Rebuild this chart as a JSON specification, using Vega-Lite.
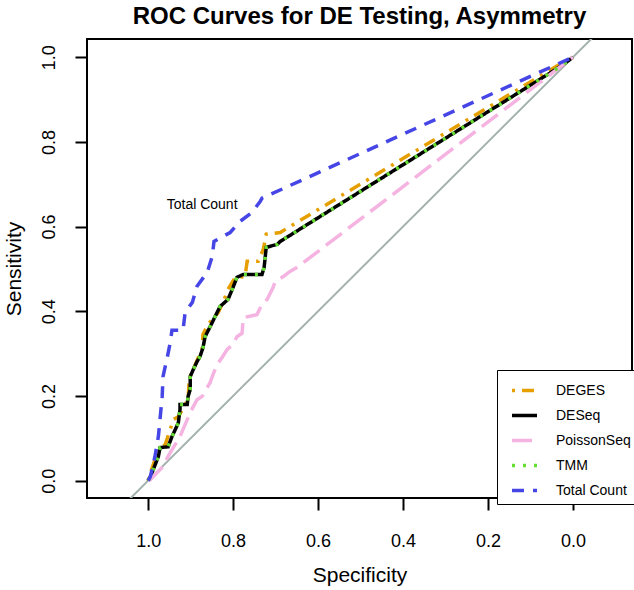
{
  "$schema": "https://vega.github.io/schema/vega-lite/v6.json",
  "autosize": "none",
  "width": 545,
  "height": 459,
  "padding": {"left": 87, "top": 39, "right": 2, "bottom": 92},
  "background": "white",
  "title": {"text": "ROC Curves for DE Testing, Asymmetry", "font": "Liberation Sans", "fontSize": 24, "fontWeight": "bold", "color": "black", "anchor": "middle", "offset": 10},
  "config": {
    "view": {"stroke": "black", "strokeWidth": 2},
    "axis": {"domain": false, "grid": false, "tickColor": "black", "tickWidth": 2, "tickSize": 12, "labelFont": "Liberation Sans", "labelFontSize": 18, "labelColor": "black", "titleFont": "Liberation Sans", "titleFontSize": 21, "titleFontWeight": "normal", "titleColor": "black"}
  },
  "datasets": {
    "curves": [
      {"s": "DEGES", "i": 0, "x": 1.0, "y": 0.0},
      {"s": "DEGES", "i": 1, "x": 0.995, "y": 0.017},
      {"s": "DEGES", "i": 2, "x": 0.984, "y": 0.05},
      {"s": "DEGES", "i": 3, "x": 0.979, "y": 0.069},
      {"s": "DEGES", "i": 4, "x": 0.96, "y": 0.085},
      {"s": "DEGES", "i": 5, "x": 0.948, "y": 0.121},
      {"s": "DEGES", "i": 6, "x": 0.941, "y": 0.144},
      {"s": "DEGES", "i": 7, "x": 0.929, "y": 0.151},
      {"s": "DEGES", "i": 8, "x": 0.913, "y": 0.18},
      {"s": "DEGES", "i": 9, "x": 0.906, "y": 0.191},
      {"s": "DEGES", "i": 10, "x": 0.904, "y": 0.227},
      {"s": "DEGES", "i": 11, "x": 0.901, "y": 0.246},
      {"s": "DEGES", "i": 12, "x": 0.889, "y": 0.274},
      {"s": "DEGES", "i": 13, "x": 0.882, "y": 0.291},
      {"s": "DEGES", "i": 14, "x": 0.873, "y": 0.31},
      {"s": "DEGES", "i": 15, "x": 0.871, "y": 0.345},
      {"s": "DEGES", "i": 16, "x": 0.859, "y": 0.369},
      {"s": "DEGES", "i": 17, "x": 0.849, "y": 0.381},
      {"s": "DEGES", "i": 18, "x": 0.835, "y": 0.397},
      {"s": "DEGES", "i": 19, "x": 0.821, "y": 0.428},
      {"s": "DEGES", "i": 20, "x": 0.812, "y": 0.452},
      {"s": "DEGES", "i": 21, "x": 0.795, "y": 0.48},
      {"s": "DEGES", "i": 22, "x": 0.772, "y": 0.482},
      {"s": "DEGES", "i": 23, "x": 0.767, "y": 0.518},
      {"s": "DEGES", "i": 24, "x": 0.741, "y": 0.518},
      {"s": "DEGES", "i": 25, "x": 0.729, "y": 0.546},
      {"s": "DEGES", "i": 26, "x": 0.722, "y": 0.582},
      {"s": "DEGES", "i": 27, "x": 0.689, "y": 0.586},
      {"s": "DEGES", "i": 28, "x": 0.673, "y": 0.596},
      {"s": "DEGES", "i": 29, "x": 0.035, "y": 0.981},
      {"s": "DEGES", "i": 30, "x": 0.0, "y": 1.0},

      {"s": "DESeq", "i": 0, "x": 1.0, "y": 0.0},
      {"s": "DESeq", "i": 1, "x": 0.995, "y": 0.009},
      {"s": "DESeq", "i": 2, "x": 0.988, "y": 0.026},
      {"s": "DESeq", "i": 3, "x": 0.976, "y": 0.057},
      {"s": "DESeq", "i": 4, "x": 0.972, "y": 0.078},
      {"s": "DESeq", "i": 5, "x": 0.953, "y": 0.08},
      {"s": "DESeq", "i": 6, "x": 0.944, "y": 0.104},
      {"s": "DESeq", "i": 7, "x": 0.936, "y": 0.121},
      {"s": "DESeq", "i": 8, "x": 0.929, "y": 0.137},
      {"s": "DESeq", "i": 9, "x": 0.925, "y": 0.168},
      {"s": "DESeq", "i": 10, "x": 0.925, "y": 0.18},
      {"s": "DESeq", "i": 11, "x": 0.908, "y": 0.18},
      {"s": "DESeq", "i": 12, "x": 0.906, "y": 0.199},
      {"s": "DESeq", "i": 13, "x": 0.901, "y": 0.215},
      {"s": "DESeq", "i": 14, "x": 0.901, "y": 0.246},
      {"s": "DESeq", "i": 15, "x": 0.894, "y": 0.262},
      {"s": "DESeq", "i": 16, "x": 0.885, "y": 0.281},
      {"s": "DESeq", "i": 17, "x": 0.878, "y": 0.293},
      {"s": "DESeq", "i": 18, "x": 0.871, "y": 0.314},
      {"s": "DESeq", "i": 19, "x": 0.866, "y": 0.34},
      {"s": "DESeq", "i": 20, "x": 0.854, "y": 0.364},
      {"s": "DESeq", "i": 21, "x": 0.849, "y": 0.374},
      {"s": "DESeq", "i": 22, "x": 0.831, "y": 0.411},
      {"s": "DESeq", "i": 23, "x": 0.812, "y": 0.428},
      {"s": "DESeq", "i": 24, "x": 0.802, "y": 0.452},
      {"s": "DESeq", "i": 25, "x": 0.791, "y": 0.48},
      {"s": "DESeq", "i": 26, "x": 0.776, "y": 0.487},
      {"s": "DESeq", "i": 27, "x": 0.732, "y": 0.487},
      {"s": "DESeq", "i": 28, "x": 0.727, "y": 0.504},
      {"s": "DESeq", "i": 29, "x": 0.722, "y": 0.551},
      {"s": "DESeq", "i": 30, "x": 0.696, "y": 0.558},
      {"s": "DESeq", "i": 31, "x": 0.689, "y": 0.565},
      {"s": "DESeq", "i": 32, "x": 0.028, "y": 0.979},
      {"s": "DESeq", "i": 33, "x": 0.0, "y": 1.0},

      {"s": "PoissonSeq", "i": 0, "x": 1.0, "y": 0.0},
      {"s": "PoissonSeq", "i": 1, "x": 0.995, "y": 0.002},
      {"s": "PoissonSeq", "i": 2, "x": 0.979, "y": 0.019},
      {"s": "PoissonSeq", "i": 3, "x": 0.965, "y": 0.033},
      {"s": "PoissonSeq", "i": 4, "x": 0.955, "y": 0.054},
      {"s": "PoissonSeq", "i": 5, "x": 0.948, "y": 0.066},
      {"s": "PoissonSeq", "i": 6, "x": 0.925, "y": 0.104},
      {"s": "PoissonSeq", "i": 7, "x": 0.918, "y": 0.121},
      {"s": "PoissonSeq", "i": 8, "x": 0.908, "y": 0.144},
      {"s": "PoissonSeq", "i": 9, "x": 0.901, "y": 0.161},
      {"s": "PoissonSeq", "i": 10, "x": 0.885, "y": 0.191},
      {"s": "PoissonSeq", "i": 11, "x": 0.873, "y": 0.199},
      {"s": "PoissonSeq", "i": 12, "x": 0.854, "y": 0.232},
      {"s": "PoissonSeq", "i": 13, "x": 0.849, "y": 0.246},
      {"s": "PoissonSeq", "i": 14, "x": 0.838, "y": 0.274},
      {"s": "PoissonSeq", "i": 15, "x": 0.826, "y": 0.291},
      {"s": "PoissonSeq", "i": 16, "x": 0.814, "y": 0.31},
      {"s": "PoissonSeq", "i": 17, "x": 0.8, "y": 0.322},
      {"s": "PoissonSeq", "i": 18, "x": 0.791, "y": 0.34},
      {"s": "PoissonSeq", "i": 19, "x": 0.779, "y": 0.348},
      {"s": "PoissonSeq", "i": 20, "x": 0.776, "y": 0.385},
      {"s": "PoissonSeq", "i": 21, "x": 0.744, "y": 0.392},
      {"s": "PoissonSeq", "i": 22, "x": 0.732, "y": 0.416},
      {"s": "PoissonSeq", "i": 23, "x": 0.72, "y": 0.428},
      {"s": "PoissonSeq", "i": 24, "x": 0.706, "y": 0.456},
      {"s": "PoissonSeq", "i": 25, "x": 0.701, "y": 0.47},
      {"s": "PoissonSeq", "i": 26, "x": 0.682, "y": 0.482},
      {"s": "PoissonSeq", "i": 27, "x": 0.666, "y": 0.494},
      {"s": "PoissonSeq", "i": 28, "x": 0.649, "y": 0.504},
      {"s": "PoissonSeq", "i": 29, "x": 0.0, "y": 1.0},

      {"s": "TMM", "i": 0, "x": 1.0, "y": 0.0},
      {"s": "TMM", "i": 1, "x": 0.995, "y": 0.009},
      {"s": "TMM", "i": 2, "x": 0.988, "y": 0.026},
      {"s": "TMM", "i": 3, "x": 0.976, "y": 0.057},
      {"s": "TMM", "i": 4, "x": 0.972, "y": 0.078},
      {"s": "TMM", "i": 5, "x": 0.953, "y": 0.08},
      {"s": "TMM", "i": 6, "x": 0.944, "y": 0.104},
      {"s": "TMM", "i": 7, "x": 0.936, "y": 0.121},
      {"s": "TMM", "i": 8, "x": 0.929, "y": 0.137},
      {"s": "TMM", "i": 9, "x": 0.925, "y": 0.168},
      {"s": "TMM", "i": 10, "x": 0.925, "y": 0.18},
      {"s": "TMM", "i": 11, "x": 0.908, "y": 0.18},
      {"s": "TMM", "i": 12, "x": 0.906, "y": 0.199},
      {"s": "TMM", "i": 13, "x": 0.901, "y": 0.215},
      {"s": "TMM", "i": 14, "x": 0.901, "y": 0.246},
      {"s": "TMM", "i": 15, "x": 0.894, "y": 0.262},
      {"s": "TMM", "i": 16, "x": 0.885, "y": 0.281},
      {"s": "TMM", "i": 17, "x": 0.878, "y": 0.293},
      {"s": "TMM", "i": 18, "x": 0.871, "y": 0.314},
      {"s": "TMM", "i": 19, "x": 0.866, "y": 0.34},
      {"s": "TMM", "i": 20, "x": 0.854, "y": 0.364},
      {"s": "TMM", "i": 21, "x": 0.849, "y": 0.374},
      {"s": "TMM", "i": 22, "x": 0.831, "y": 0.411},
      {"s": "TMM", "i": 23, "x": 0.812, "y": 0.428},
      {"s": "TMM", "i": 24, "x": 0.802, "y": 0.452},
      {"s": "TMM", "i": 25, "x": 0.791, "y": 0.48},
      {"s": "TMM", "i": 26, "x": 0.776, "y": 0.487},
      {"s": "TMM", "i": 27, "x": 0.732, "y": 0.487},
      {"s": "TMM", "i": 28, "x": 0.727, "y": 0.504},
      {"s": "TMM", "i": 29, "x": 0.722, "y": 0.551},
      {"s": "TMM", "i": 30, "x": 0.696, "y": 0.558},
      {"s": "TMM", "i": 31, "x": 0.689, "y": 0.565},
      {"s": "TMM", "i": 32, "x": 0.028, "y": 0.979},
      {"s": "TMM", "i": 33, "x": 0.0, "y": 1.0},

      {"s": "Total Count", "i": 0, "x": 1.0, "y": 0.0},
      {"s": "Total Count", "i": 1, "x": 0.995, "y": 0.009},
      {"s": "Total Count", "i": 2, "x": 0.984, "y": 0.057},
      {"s": "Total Count", "i": 3, "x": 0.976, "y": 0.104},
      {"s": "Total Count", "i": 4, "x": 0.967, "y": 0.199},
      {"s": "Total Count", "i": 5, "x": 0.965, "y": 0.246},
      {"s": "Total Count", "i": 6, "x": 0.955, "y": 0.291},
      {"s": "Total Count", "i": 7, "x": 0.948, "y": 0.326},
      {"s": "Total Count", "i": 8, "x": 0.944, "y": 0.355},
      {"s": "Total Count", "i": 9, "x": 0.918, "y": 0.355},
      {"s": "Total Count", "i": 10, "x": 0.913, "y": 0.397},
      {"s": "Total Count", "i": 11, "x": 0.896, "y": 0.421},
      {"s": "Total Count", "i": 12, "x": 0.885, "y": 0.459},
      {"s": "Total Count", "i": 13, "x": 0.861, "y": 0.492},
      {"s": "Total Count", "i": 14, "x": 0.849, "y": 0.53},
      {"s": "Total Count", "i": 15, "x": 0.845, "y": 0.565},
      {"s": "Total Count", "i": 16, "x": 0.807, "y": 0.586},
      {"s": "Total Count", "i": 17, "x": 0.784, "y": 0.612},
      {"s": "Total Count", "i": 18, "x": 0.755, "y": 0.634},
      {"s": "Total Count", "i": 19, "x": 0.736, "y": 0.66},
      {"s": "Total Count", "i": 20, "x": 0.732, "y": 0.667},
      {"s": "Total Count", "i": 21, "x": 0.005, "y": 0.998},
      {"s": "Total Count", "i": 22, "x": 0.0, "y": 1.0}
    ],
    "diag": [
      {"x": 1.2, "y": -0.2},
      {"x": -0.2, "y": 1.2}
    ],
    "labels": [
      {"x": 0.873, "y": 0.652, "label": "Total Count"}
    ]
  },
  "layer": [
    {
      "data": {"name": "diag"},
      "mark": {"type": "line", "color": "#A3B2AE", "strokeWidth": 2, "clip": true},
      "encoding": {
        "x": {"field": "x", "type": "quantitative", "scale": {"domain": [1.144, -0.139], "nice": false, "zero": false},
              "axis": {"values": [1.0, 0.8, 0.6, 0.4, 0.2, 0.0], "format": ".1f", "title": "Specificity", "labelPadding": 22, "titlePadding": 14}},
        "y": {"field": "y", "type": "quantitative", "scale": {"domain": [-0.041, 1.043], "nice": false, "zero": false},
              "axis": {"values": [0.0, 0.2, 0.4, 0.6, 0.8, 1.0], "format": ".1f", "title": "Sensitivity", "labelAngle": -90, "labelAlign": "center", "labelBaseline": "bottom", "labelPadding": 17, "titlePadding": 16}}
      }
    },
    {
      "data": {"name": "curves"},
      "mark": {"type": "line", "strokeWidth": 3.5, "strokeCap": "butt", "clip": true},
      "encoding": {
        "x": {"field": "x", "type": "quantitative"},
        "y": {"field": "y", "type": "quantitative"},
        "order": {"field": "i", "type": "quantitative"},
        "color": {"field": "s", "type": "nominal",
                  "scale": {"domain": ["DEGES", "DESeq", "PoissonSeq", "TMM", "Total Count"], "range": ["#E69F00", "#000000", "#F5B3E1", "#66DD33", "#4646E6"]},
                  "legend": {"title": null, "orient": "none", "legendX": 410, "legendY": 331, "strokeColor": "black", "fillColor": "white", "padding": 6, "symbolOffset": 7, "symbolType": "stroke", "symbolSize": 625, "symbolStrokeWidth": 3.5, "labelFont": "Liberation Sans", "labelFontSize": 14, "labelColor": "black", "labelOffset": 17, "rowPadding": 3}},
        "strokeDash": {"field": "s", "type": "nominal",
                  "scale": {"domain": ["DEGES", "DESeq", "PoissonSeq", "TMM", "Total Count"], "range": [[3, 7, 12, 7], [1, 0], [20, 8], [3, 8], [12, 9]]},
                  "legend": {"title": null}}
      }
    },
    {
      "data": {"name": "labels"},
      "mark": {"type": "text", "font": "Liberation Sans", "fontSize": 14, "color": "black"},
      "encoding": {
        "x": {"field": "x", "type": "quantitative"},
        "y": {"field": "y", "type": "quantitative"},
        "text": {"field": "label"}
      }
    }
  ]
}
